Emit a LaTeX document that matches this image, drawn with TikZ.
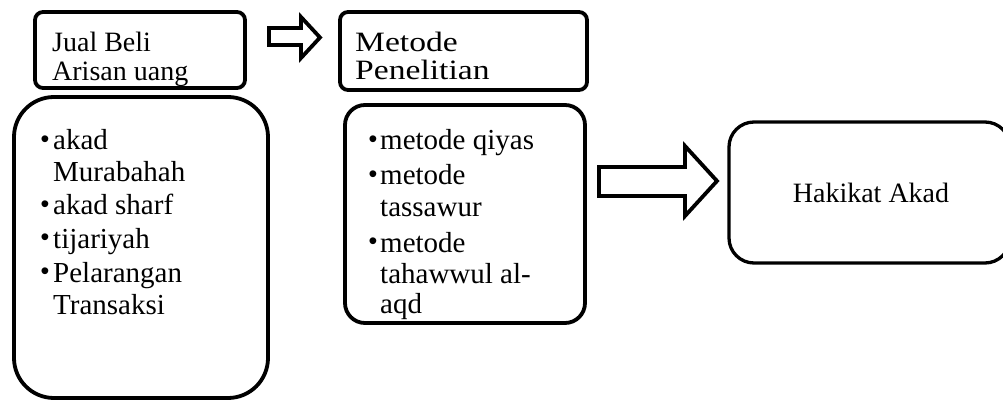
\documentclass[tikz,border=0pt]{standalone}
\usepackage{fontspec}
\setmainfont{Liberation Serif}
\newfontfamily\bulletfont{Liberation Sans}
\newfontfamily\widefont[FakeStretch=1.2]{Liberation Serif}
\begin{document}
\begin{tikzpicture}[x=1pt,y=-1pt,
  box/.style={draw=black, line width=3.8pt, rounded corners=#1, anchor=north west, inner sep=0pt, outer sep=0pt},
  txt/.style={anchor=base west, inner sep=0pt, font=\fontsize{28}{30}\selectfont},
  wtxt/.style={anchor=base west, inner sep=0pt, font=\widefont\fontsize{28}{30}\selectfont},
  ltxt/.style={anchor=base west, inner sep=0pt, font=\fontsize{29}{32}\selectfont},
  ctxt/.style={anchor=base, inner sep=0pt, font=\fontsize{28}{30}\selectfont},
  bul/.style={inner sep=0pt, font=\bulletfont\fontsize{25}{25}\selectfont},
  blk/.style={draw=black, line width=3.8pt, line join=miter, miter limit=10}]
\useasboundingbox (0,0) rectangle (1003,403);
% boxes
\node[box=8, minimum width=210, minimum height=76] (b1) at (35,12) {};
\node[box=40, minimum width=254, minimum height=301] (b2) at (14,97) {};
\node[box=8, minimum width=247, minimum height=78] (b3) at (340,12) {};
\node[box=20, minimum width=240, minimum height=218] (b4) at (345,105) {};
\node[box=25, line width=3.3pt, minimum width=281, minimum height=141] (b5) at (729,122) {};
% block arrows
\draw[blk] (269,28) -- (301,28) -- (301,17) -- (320,37.5) -- (301,58) -- (301,45) -- (269,45) -- cycle;
\draw[blk] (599,167) -- (685,167) -- (685,146) -- (717,181) -- (685,216) -- (685,196) -- (599,196) -- cycle;
% texts box 1 and 3
\node[txt] (t1a) at (52,52) {Jual Beli};
\node[txt] (t1b) at (52,81) {Arisan uang};
\node[wtxt] (t3a) at (355,52) {Metode};
\node[wtxt] (t3b) at (355,80) {Penelitian};
% list box 2
\node[bul] (p1) at (45,142) {•};
\node[ltxt] (l1a) at (53,150) {akad};
\node[ltxt] (l1b) at (53,182) {Murabahah};
\node[bul] (p2) at (45,207) {•};
\node[ltxt] (l2) at (53,215) {akad sharf};
\node[bul] (p3) at (45,240) {•};
\node[ltxt] (l3) at (53,248) {tijariyah};
\node[bul] (p4) at (45,274) {•};
\node[ltxt] (l4a) at (53,282) {Pelarangan};
\node[ltxt] (l4b) at (53,314) {Transaksi};
% list box 4
\node[bul] (q1) at (373,142) {•};
\node[ltxt] (m1) at (380,150) {metode qiyas};
\node[bul] (q2) at (373,177) {•};
\node[ltxt] (m2a) at (380,185) {metode};
\node[ltxt] (m2b) at (380,217) {tassawur};
\node[bul] (q3) at (373,244) {•};
\node[ltxt] (m3a) at (380,252) {metode};
\node[ltxt] (m3b) at (380,283) {tahawwul al-};
\node[ltxt] (m3c) at (380,313) {aqd};
% box 5
\node[ctxt] (h) at (871,202.5) {Hakikat Akad};
\end{tikzpicture}
\end{document}
